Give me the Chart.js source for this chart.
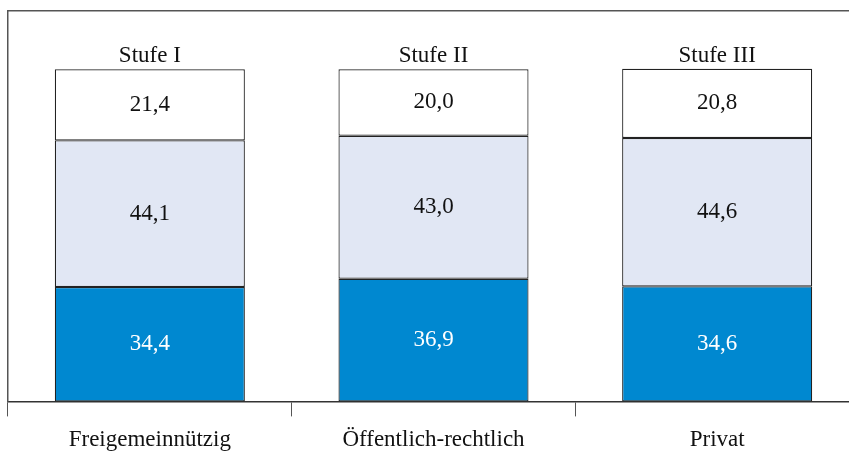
<!DOCTYPE html>
<html>
<head>
<meta charset="utf-8">
<script src="https://cdn.jsdelivr.net/npm/chart.js@4"></script>
<style>
  html, body { margin: 0; padding: 0; background: #fff; overflow: hidden; }
  #wrap { width: 849px; height: 451px; overflow: hidden; }
</style>
</head>
<body>
<div id="wrap"><canvas id="chart" width="870" height="465"></canvas></div>
<script>
// Categories and stage labels
const categories = ["Freigemeinnützig", "Öffentlich-rechtlich", "Privat"];
const stages = ["Stufe I", "Stufe II", "Stufe III"];

// Shares in percent, bottom to top
const lowerShare = [34.4, 36.9, 34.6];
const middleShare = [44.1, 43.0, 44.6];
const upperShare = [21.4, 20.0, 20.8];

const serif = "'Liberation Serif', 'DejaVu Serif', serif";

// Writes the values inside each segment and the stage name above each bar.
const labelPlugin = {
  id: "segmentLabels",
  afterDatasetsDraw(chart) {
    const { ctx } = chart;
    ctx.save();
    ctx.font = "23px " + serif;
    ctx.textAlign = "center";
    ctx.textBaseline = "middle";
    chart.data.datasets.forEach((ds, i) => {
      const meta = chart.getDatasetMeta(i);
      meta.data.forEach((bar, j) => {
        const mid = (bar.y + bar.base) / 2;
        ctx.fillStyle = i === 0 ? "#ffffff" : "#111111";
        ctx.fillText(ds.data[j].toFixed(1).replace(".", ","), bar.x, mid);
      });
    });
    const top = chart.getDatasetMeta(chart.data.datasets.length - 1);
    ctx.fillStyle = "#111111";
    ctx.textBaseline = "alphabetic";
    top.data.forEach((bar, j) => {
      ctx.fillText(stages[j], bar.x, bar.y - 7);
    });
    ctx.restore();
  },
};

const segment = (data, color) => ({
  data,
  backgroundColor: color,
  borderColor: "#222222",
  borderWidth: 1.2,
  borderSkipped: false,
  barPercentage: 0.67,
  categoryPercentage: 1,
});

new Chart(document.getElementById("chart"), {
  type: "bar",
  data: {
    labels: categories,
    datasets: [
      segment(lowerShare, "#0088d0"),
      segment(middleShare, "#e1e7f4"),
      segment(upperShare, "#ffffff"),
    ],
  },
  options: {
    responsive: false,
    animation: false,
    layout: { padding: { left: 0, right: 11, top: 3, bottom: 1 } },
    plugins: { legend: { display: false }, tooltip: { enabled: false } },
    scales: {
      x: {
        stacked: true,
        grid: {
          offset: true,
          drawOnChartArea: false,
          tickLength: 15,
          color: "#555555",
        },
        border: { color: "#333333", width: 1.5 },
        ticks: {
          color: "#111111",
          font: { family: serif, size: 23 },
          padding: 10,
        },
      },
      xTop: {
        position: "top",
        grid: { display: false },
        border: { color: "#555555", width: 1.5 },
        ticks: { display: false },
      },
      y: {
        stacked: true,
        min: 0,
        max: 117.4,
        grid: { display: false },
        border: { color: "#555555", width: 1.5 },
        ticks: { display: false },
      },
    },
  },
  plugins: [labelPlugin],
});
</script>
</body>
</html>
